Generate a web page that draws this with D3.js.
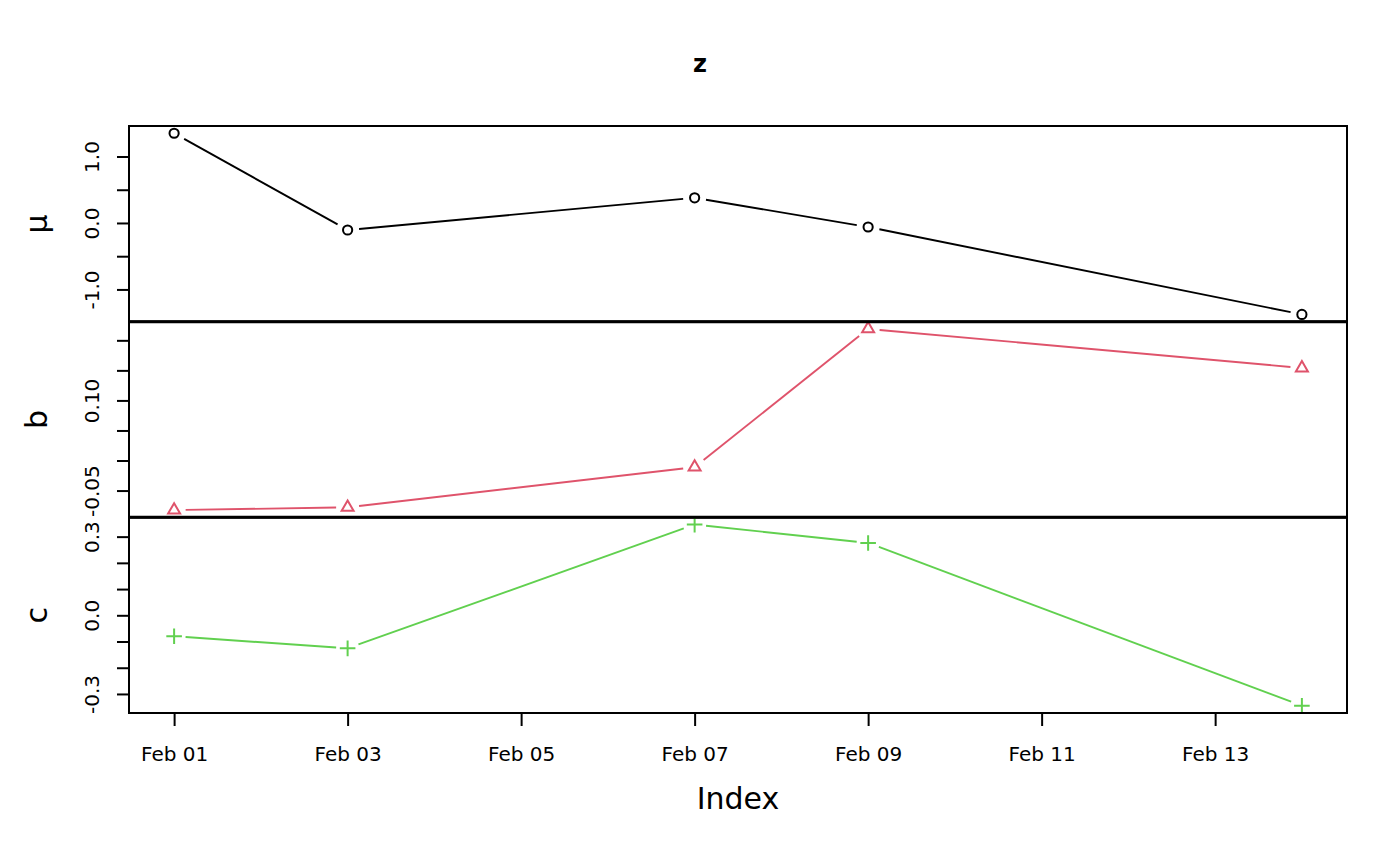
<!DOCTYPE html>
<html lang="en">
<head>
    <meta charset="UTF-8">
    <title>z</title>
    <script src="https://d3js.org/d3.v7.min.js"></script>
    <style>
        body { margin: 0; background: white; font-family: "DejaVu Sans", sans-serif; }
        text { font-family: "DejaVu Sans", sans-serif; }
    </style>
</head>
<body>
    <script>
        // Data
        const dates = ["2020-02-01", "2020-02-03", "2020-02-07", "2020-02-09", "2020-02-14"];
        const muValues = [1.35, -0.106, 0.379, -0.061, -1.376];
        const bValues = [-0.0825, -0.078, -0.011, 0.219, 0.154];
        const cValues = [-0.080, -0.126, 0.346, 0.276, -0.345];

        const xTickDates = ["2020-02-01", "2020-02-03", "2020-02-05", "2020-02-07", "2020-02-09", "2020-02-11", "2020-02-13"];
        const muTicks = [-1.0, -0.5, 0.0, 0.5, 1.0];
        const muLabels = [-1.0, 0.0, 1.0];
        const bTicks = [-0.05, 0.0, 0.05, 0.10, 0.15, 0.20];
        const bLabels = [-0.05, 0.10];
        const cTicks = [-0.3, -0.2, -0.1, 0.0, 0.1, 0.2, 0.3];
        const cLabels = [-0.3, 0.0, 0.3];

        const panelNames = ["μ", "b", "c"];
        const panelColors = ["#000000", "#DF536B", "#61D04F"];

        // Layout
        const W = 1400, H = 866;
        const margin = {top: 126, right: 53, bottom: 153, left: 129};
        const width = W - margin.left - margin.right;
        const panelH = (H - margin.top - margin.bottom) / 3;

        const svg = d3.select("body").append("svg")
            .attr("width", W)
            .attr("height", H);

        const parse = d3.utcParse("%Y-%m-%d");
        const xDates = dates.map(parse);

        // R style 4% padding on the data range
        const pad = ext => {
            const r = ext[1] - ext[0];
            return [ext[0] - 0.04 * r, ext[1] + 0.04 * r];
        };

        const xExt = d3.extent(xDates);
        const xPad = (xExt[1] - xExt[0]) * 0.04;
        const x = d3.scaleUtc()
            .domain([new Date(+xExt[0] - xPad), new Date(+xExt[1] + xPad)])
            .range([margin.left, margin.left + width]);

        const panels = [
            {name: panelNames[0], values: muValues, color: panelColors[0], shape: "circle", ticks: muTicks, labels: muLabels, fmt: d3.format(".1f")},
            {name: panelNames[1], values: bValues, color: panelColors[1], shape: "triangle", ticks: bTicks, labels: bLabels, fmt: d3.format(".2f")},
            {name: panelNames[2], values: cValues, color: panelColors[2], shape: "plus", ticks: cTicks, labels: cLabels, fmt: d3.format(".1f")}
        ];

        const gap = 11.5;

        panels.forEach((p, i) => {
            const top = margin.top + i * panelH;
            const y = d3.scaleLinear()
                .domain(pad(d3.extent(p.values)))
                .range([top + panelH, top]);

            // y axis with rotated labels
            const ax = svg.append("g")
                .attr("transform", `translate(${margin.left},0)`)
                .call(d3.axisLeft(y)
                    .tickValues(p.ticks)
                    .tickSize(12)
                    .tickFormat(d => p.labels.some(l => Math.abs(l - d) < 1e-9) ? p.fmt(d).replace("−", "-") : ""));
            ax.select(".domain").remove();
            ax.selectAll(".tick line").attr("stroke", "#000").attr("stroke-width", 2);
            ax.selectAll(".tick text")
                .attr("transform", "rotate(-90)")
                .attr("x", 0)
                .attr("y", -30)
                .attr("dy", 0)
                .attr("text-anchor", "middle")
                .attr("fill", "#000")
                .style("font-size", "20px");

            // panel label
            svg.append("text")
                .attr("transform", `translate(47,${top + panelH / 2}) rotate(-90)`)
                .attr("text-anchor", "middle")
                .style("font-size", "30px")
                .text(p.name);

            // lines with gaps around points (type "b")
            const pts = xDates.map((d, k) => [x(d), y(p.values[k])]);
            const lineG = svg.append("g")
                .attr("stroke", p.color)
                .attr("stroke-width", 1.9)
                .attr("fill", "none");
            for (let k = 0; k < pts.length - 1; k++) {
                const [x0, y0] = pts[k], [x1, y1] = pts[k + 1];
                const len = Math.hypot(x1 - x0, y1 - y0);
                if (len <= 2 * gap) continue;
                const ux = (x1 - x0) / len, uy = (y1 - y0) / len;
                lineG.append("line")
                    .attr("x1", x0 + ux * gap).attr("y1", y0 + uy * gap)
                    .attr("x2", x1 - ux * gap).attr("y2", y1 - uy * gap);
            }

            // point symbols
            const symG = svg.append("g")
                .attr("stroke", p.color)
                .attr("stroke-width", 2)
                .attr("fill", "none");
            pts.forEach(([px, py]) => {
                if (p.shape === "circle") {
                    symG.append("circle").attr("cx", px).attr("cy", py).attr("r", 4.6);
                } else if (p.shape === "triangle") {
                    const r = 6.9, h = 6;
                    symG.append("path")
                        .attr("d", `M${px},${py - r}L${px + h},${py + r / 2}L${px - h},${py + r / 2}Z`);
                } else {
                    const s = 7.8;
                    symG.append("path")
                        .attr("d", `M${px - s},${py}H${px + s}M${px},${py - s}V${py + s}`);
                }
            });

            // panel box
            svg.append("rect")
                .attr("x", margin.left)
                .attr("y", top)
                .attr("width", width)
                .attr("height", panelH)
                .attr("fill", "none")
                .attr("stroke", "#000")
                .attr("stroke-width", 2);
        });

        // separators between panels look heavier
        [1, 2].forEach(i => {
            svg.append("line")
                .attr("x1", margin.left).attr("x2", margin.left + width)
                .attr("y1", margin.top + i * panelH).attr("y2", margin.top + i * panelH)
                .attr("stroke", "#000")
                .attr("stroke-width", 3);
        });

        // x axis
        const xAxis = svg.append("g")
            .attr("transform", `translate(0,${margin.top + 3 * panelH})`)
            .call(d3.axisBottom(x)
                .tickValues(xTickDates.map(parse))
                .tickSize(13)
                .tickFormat(d3.utcFormat("%b %d")));
        xAxis.select(".domain").remove();
        xAxis.selectAll(".tick line").attr("stroke", "#000").attr("stroke-width", 2);
        xAxis.selectAll(".tick text")
            .attr("y", 48)
            .attr("dy", 0)
            .attr("fill", "#000")
            .style("font-size", "20px");

        // titles
        svg.append("text")
            .attr("x", W / 2)
            .attr("y", 72)
            .attr("text-anchor", "middle")
            .style("font-size", "24px")
            .style("font-weight", "bold")
            .text("z");

        svg.append("text")
            .attr("x", margin.left + width / 2)
            .attr("y", 809)
            .attr("text-anchor", "middle")
            .style("font-size", "30px")
            .text("Index");
    </script>
</body>
</html>
